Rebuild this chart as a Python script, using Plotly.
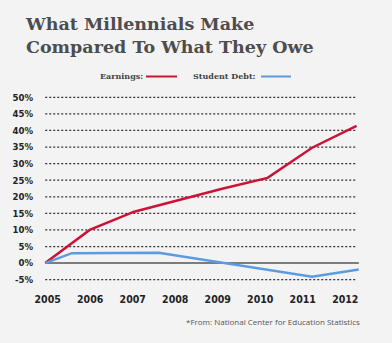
import plotly.graph_objects as go

years = [2005, 2006, 2007, 2008, 2009, 2010, 2011, 2012]
earnings = [0, 10, 15.5, 19, 22.5, 25.7, 34.8, 41.4]
debt_x = [2005, 2005.6, 2007.55, 2011, 2012.05]
debt_y = [0, 3.0, 3.1, -4.1, -1.9]
y_ticks = [50, 45, 40, 35, 30, 25, 20, 15, 10, 5, 0, -5]
y_labels = [f"{v}%" for v in y_ticks]
x_labels = [str(y) for y in years]

BG = "#f3f3f3"
RED = "#cc1236"
BLUE = "#5b9be0"
INK = "#4d4d4d"
NARROW = "Liberation Sans Narrow, DejaVu Sans Condensed"

W, H = 392, 343
L, R, T, B = 43, 31, 94, 60
pw, ph = W - L - R, H - T - B


def px(x):
    return (x - L) / pw


def py(y):
    return (H - B - y) / ph


fig = go.Figure()
fig.add_trace(go.Scatter(x=years, y=earnings, mode="lines", line=dict(color=RED, width=2.5),
                         showlegend=False, hoverinfo="skip"))
fig.add_trace(go.Scatter(x=debt_x, y=debt_y, mode="lines", line=dict(color=BLUE, width=2.5),
                         showlegend=False, hoverinfo="skip"))
# invisible trace to carry the label axis
fig.add_trace(go.Scatter(x=years, y=[None] * len(years), xaxis="x2", showlegend=False, hoverinfo="skip"))

shapes = []
for v in y_ticks:
    if v == 0:
        continue
    shapes.append(dict(type="line", xref="x", yref="y", x0=years[0], x1=years[-1], y0=v, y1=v,
                       line=dict(color="#333", width=1.2, dash="2px,2px"), layer="below"))
shapes.append(dict(type="line", xref="x", yref="y", x0=years[0], x1=years[-1] + 0.05, y0=0, y1=0,
                   line=dict(color="#555", width=1.5), layer="below"))
shapes.append(dict(type="line", xref="paper", yref="paper", x0=px(146), x1=px(177), y0=py(76.5), y1=py(76.5),
                   line=dict(color=RED, width=2)))
shapes.append(dict(type="line", xref="paper", yref="paper", x0=px(261), x1=px(291), y0=py(76.5), y1=py(76.5),
                   line=dict(color=BLUE, width=2)))

TITLE_FONT = dict(family="DejaVu Serif", size=17.5, color=INK, weight="bold")
LEG_FONT = dict(family="DejaVu Serif", size=8, color="#444", weight="bold")
annotations = [
    dict(text="What Millennials Make<br>Compared To What They Owe", xref="paper", yref="paper", x=px(23),
         y=py(12), xanchor="left", yanchor="top", align="left", showarrow=False, font=TITLE_FONT),
    dict(text="Earnings:", xref="paper", yref="paper", x=px(145), y=py(75.5), xanchor="right",
         yanchor="middle", showarrow=False, font=LEG_FONT),
    dict(text="Student Debt:", xref="paper", yref="paper", x=px(258), y=py(75.5), xanchor="right",
         yanchor="middle", showarrow=False, font=LEG_FONT),
    dict(text="*From: National Center for Education Statistics", xref="paper", yref="paper", x=px(362),
         y=py(321.5), xanchor="right", yanchor="middle", showarrow=False,
         font=dict(family="Open Sans", size=8, color="#555")),
]

fig.update_layout(
    width=W, height=H,
    margin=dict(l=L, r=R, t=T, b=B),
    paper_bgcolor=BG, plot_bgcolor=BG,
    xaxis=dict(range=[2004.95, 2012.1], showgrid=False, zeroline=False, showticklabels=False, fixedrange=True),
    xaxis2=dict(range=[2004.89, 2012.37], overlaying="x", side="bottom", showgrid=False, zeroline=False,
                tickvals=years, ticktext=x_labels,
                tickfont=dict(family=NARROW, size=10.5, color="#222", weight="bold"),
                ticklabelstandoff=8, fixedrange=True),
    yaxis=dict(range=[-6, 51], tickvals=y_ticks, ticktext=y_labels, showgrid=False, zeroline=False,
               tickfont=dict(family=NARROW, size=9.5, color="#222", weight="bold"),
               ticklabelstandoff=9, fixedrange=True),
    shapes=shapes,
    annotations=annotations,
    showlegend=False,
)

fig.write_html("out.html")
